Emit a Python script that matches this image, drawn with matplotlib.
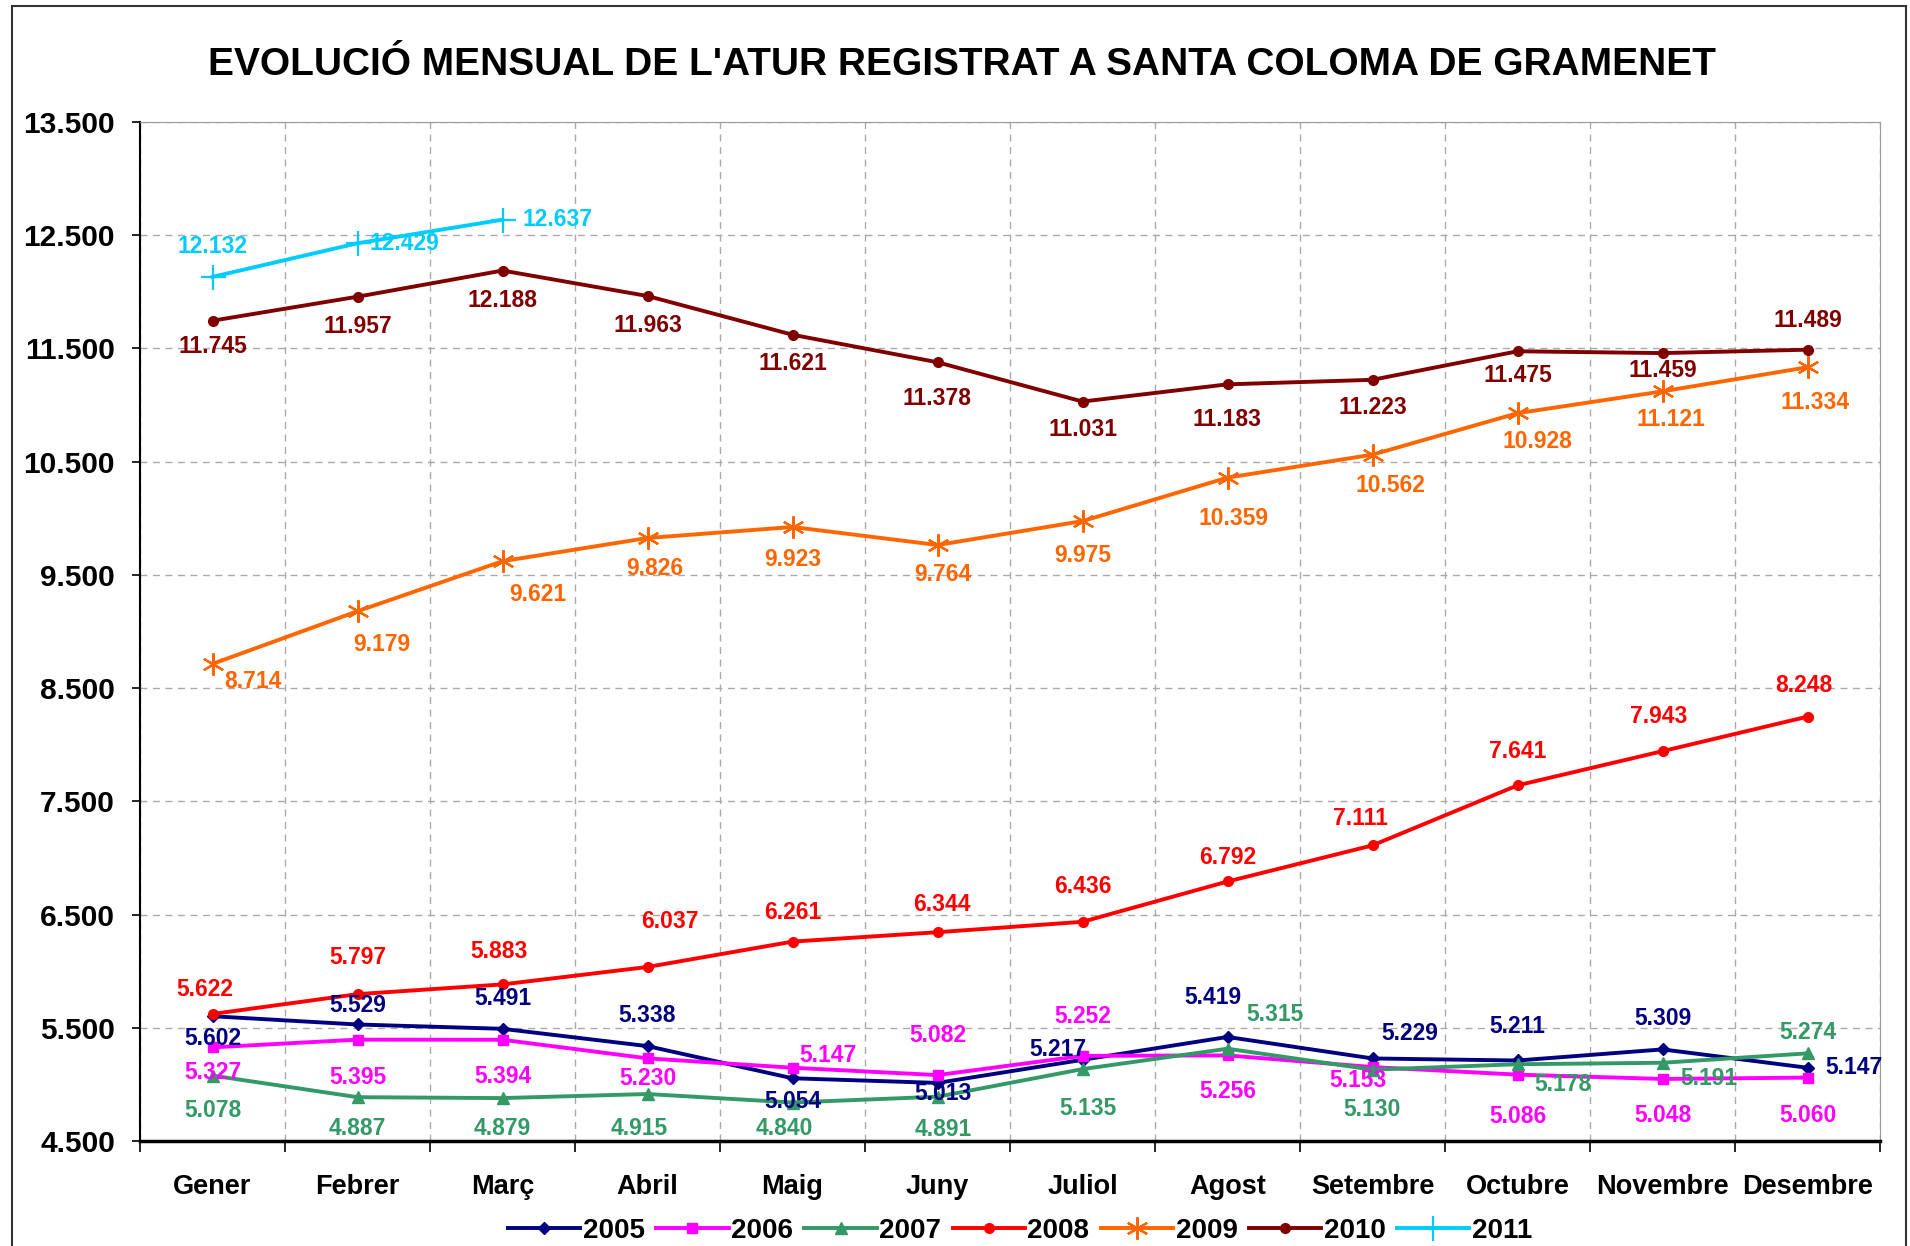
import matplotlib
matplotlib.use("Agg")
import matplotlib.pyplot as plt
from matplotlib.patches import Rectangle
from matplotlib.ticker import FuncFormatter, FixedLocator

plt.rcParams['font.family'] = ['Liberation Sans', 'DejaVu Sans']
plt.rcParams['font.weight'] = 'bold'

months = ["Gener", "Febrer", "Març", "Abril", "Maig", "Juny", "Juliol",
          "Agost", "Setembre", "Octubre", "Novembre", "Desembre"]

atur_2005 = [5602, 5529, 5491, 5338, 5054, 5013, 5217, 5419, 5229, 5211, 5309, 5147]
atur_2006 = [5327, 5395, 5394, 5230, 5147, 5082, 5252, 5256, 5153, 5086, 5048, 5060]
atur_2007 = [5078, 4887, 4879, 4915, 4840, 4891, 5135, 5315, 5130, 5178, 5191, 5274]
atur_2008 = [5622, 5797, 5883, 6037, 6261, 6344, 6436, 6792, 7111, 7641, 7943, 8248]
atur_2009 = [8714, 9179, 9621, 9826, 9923, 9764, 9975, 10359, 10562, 10928, 11121, 11334]
atur_2010 = [11745, 11957, 12188, 11963, 11621, 11378, 11031, 11183, 11223, 11475, 11459, 11489]
atur_2011 = [12132, 12429, 12637]

# style per year: colour, marker, marker size
series = [
    ("2005", atur_2005, "#000080", "D", 6),
    ("2006", atur_2006, "#FF00FF", "s", 7),
    ("2007", atur_2007, "#339966", "^", 8),
    ("2008", atur_2008, "#FF0000", "o", 7),
    ("2009", atur_2009, "#FF6600", (6, 2, 0), 16),
    ("2010", atur_2010, "#800000", "o", 7),
    ("2011", atur_2011, "#00CCFF", "+", 18),
]

# label offsets in pixels (dx right, dy down), as placed in the original
label_offsets = {
    "2005": [(0, 22), (0, -19), (0, -30), (0, -31), (0, 23), (6, 11), (-25, -10),
             (-15, -39), (37, -25), (0, -34), (0, -31), ("L", 18, 0)],
    "2006": [(0, 25), (0, 38), (0, 37), (0, 20), (35, -12), (0, -40), (0, -39),
             (0, 36), (-15, 13), (0, 42), (0, 37), (0, 38)],
    "2007": [(0, 35), (0, 31), (0, 30), (-8, 34), (-8, 26), (6, 33), (5, 39),
             (47, -34), (0, 40), (45, 20), (46, 16), (0, -21)],
    "2008": [(-8, -24), (0, -37), (-3, -33), (22, -45), (0, -29), (4, -28), (0, -35),
             (0, -24), (-12, -27), (0, -34), (-4, -35), (-4, -31)],
    "2009": [(40, 18), (24, 33), (35, 33), (7, 31), (0, 33), (5, 30), (0, 34),
             (6, 41), (18, 31), (20, 28), (8, 28), (8, 35)],
    "2010": [(0, 26), (0, 30), (0, 30), (0, 29), (0, 29), (0, 36), (0, 28),
             (0, 35), (0, 28), (0, 24), (0, 17), (0, -29)],
    "2011": [(0, -30), ("L", 12, 0), ("L", 20, 0)],
}

fig = plt.figure(figsize=(19.1, 12.46), dpi=100)
ax = fig.add_axes([140 / 1910, 1 - 1141 / 1246, 1740 / 1910, 1019 / 1246])

for name, vals, col, mk, ms in series:
    xs = list(range(len(vals)))
    ax.plot(xs, vals, color=col, lw=2.8, marker=mk, ms=ms, mew=1.6 if mk in ("+", (6, 2, 0)) else 1,
            label=name, zorder=3)
    for i, v in enumerate(vals):
        off = label_offsets[name][i]
        if off[0] == "L":
            ha, dx, dy = "left", off[1], off[2]
        else:
            ha, dx, dy = "center", off[0], off[1]
        ax.annotate(f"{v:,}".replace(",", "."), (i, v), xytext=(dx, -dy),
                    textcoords="offset pixels", ha=ha, va="center",
                    color=col, fontsize=16.5, fontweight="bold", zorder=4)

ax.set_xlim(-0.5, 11.5)
ax.set_ylim(4500, 13500)
ax.set_yticks(range(4500, 13501, 1000))
ax.yaxis.set_major_formatter(FuncFormatter(lambda v, p: f"{int(v):,}".replace(",", ".")))
ax.set_xticks(range(12))
ax.set_xticklabels(months)
ax.xaxis.set_minor_locator(FixedLocator([i + 0.5 for i in range(-1, 12)]))
ax.tick_params(axis="x", which="major", length=0, pad=24, labelsize=19.5)
ax.tick_params(axis="x", which="minor", length=8, width=1.2, direction="out")
ax.tick_params(axis="y", length=6, width=1.2, pad=12, labelsize=21.5)
ax.grid(True, axis="y", ls=(0, (5, 4)), color="#AAAAAA", lw=1)
ax.grid(True, axis="x", which="minor", ls=(0, (5, 4)), color="#AAAAAA", lw=1)

ax.spines["left"].set_color("black")
ax.spines["left"].set_linewidth(1.5)
ax.spines["bottom"].set_color("black")
ax.spines["bottom"].set_linewidth(2.5)
ax.spines["top"].set_color("#999999")
ax.spines["right"].set_color("#999999")

fig.text(962 / 1910, 1 - 65 / 1246,
         "EVOLUCIÓ MENSUAL DE L'ATUR REGISTRAT A SANTA COLOMA DE GRAMENET",
         ha="center", va="center", fontsize=28, fontweight="bold")

fig.legend(loc="center", bbox_to_anchor=(1020 / 1910, 1 - 1231 / 1246), ncol=7,
           frameon=False, handlelength=2.6, handletextpad=0.1,
           columnspacing=0.4, prop={"weight": "bold", "size": 20})

fig.patches.append(Rectangle((12 / 1910, -0.01), 1894 / 1910, 1 - 6 / 1246 + 0.01,
                             transform=fig.transFigure, fill=False,
                             edgecolor="#333333", lw=1.5))

fig.savefig("out.png", dpi=100)
